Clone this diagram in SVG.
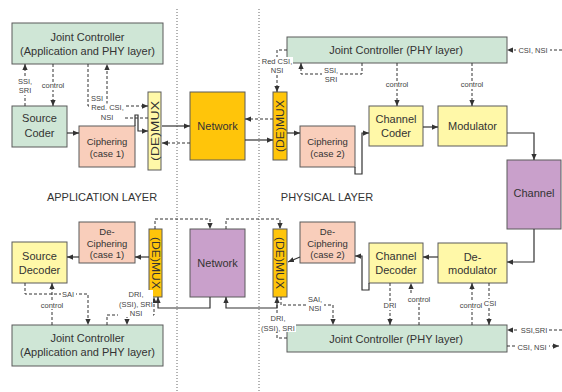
<svg xmlns="http://www.w3.org/2000/svg" width="562" height="392" viewBox="0 0 562 392">
<defs>
<marker id="a" viewBox="0 0 8 8" refX="8" refY="4" markerWidth="6" markerHeight="6" markerUnits="userSpaceOnUse" orient="auto"><path d="M0,0.5 L8,4 L0,7.5 z" fill="#333"/></marker>
<style>
.box{stroke:#5a5a5a;stroke-width:1}
.g{fill:#cfe6d6}.s{fill:#f9cebb}.y{fill:#fff8a8}.o{fill:#ffc50a}.p{fill:#c9a0cb}
.t{font-family:"Liberation Sans",Arial,sans-serif;font-size:11px;fill:#333;text-anchor:middle}
.tc{font-size:9.5px}
.l{font-family:"Liberation Sans",Arial,sans-serif;font-size:7.5px;fill:#444;text-anchor:middle}
.bg{fill:#fff}
.sol{fill:none;stroke:#333;stroke-width:1.2;marker-end:url(#a)}
.das{fill:none;stroke:#333;stroke-width:1;stroke-dasharray:3,2;marker-end:url(#a)}
.sep{stroke:#666;stroke-width:1;stroke-dasharray:1,2}
</style>
</defs>
<rect width="562" height="392" fill="#fff"/>
<g id="separators">
<line class="sep" x1="177" y1="9" x2="177" y2="392"/>
<line class="sep" x1="259" y1="9" x2="259" y2="392"/>
</g>
<g id="layer-labels">
<text class="t" x="102" y="201" fill="#444">APPLICATION LAYER</text>
<text class="t" x="327" y="201">PHYSICAL LAYER</text>
</g>
<g id="jc-app-top"><rect class="box g" x="12" y="23" width="151" height="41"/><text class="t" x="87.5" y="41">Joint Controller</text><text class="t" x="87.5" y="55">(Application and PHY layer)</text></g>
<g id="source-coder"><rect class="box g" x="12" y="106" width="55" height="41"/><text class="t" x="39.5" y="122">Source</text><text class="t" x="39.5" y="137">Coder</text></g>
<g id="ciphering1"><rect class="box s" x="79" y="126" width="56" height="41"/><text class="t tc" x="107" y="144.5">Ciphering</text><text class="t tc" x="107" y="157">(case 1)</text></g>
<g id="demux1"><rect class="box y" x="148" y="92" width="13" height="78"/><text class="t" transform="translate(158.5,131) rotate(-90)" textLength="60" lengthAdjust="spacingAndGlyphs">(DE)MUX</text></g>
<g id="network1"><rect class="box o" x="190" y="92" width="55" height="68"/><text class="t" x="217.5" y="130">Network</text></g>
<g id="demux2"><rect class="box o" x="273" y="92" width="14" height="68"/><text class="t" transform="translate(284,126) rotate(-90)" textLength="52" lengthAdjust="spacingAndGlyphs">(DE)MUX</text></g>
<g id="jc-phy-top"><rect class="box g" x="287" y="37" width="220" height="26"/><text class="t" x="396" y="54">Joint Controller (PHY layer)</text></g>
<g id="ciphering2"><rect class="box s" x="300" y="126" width="55" height="41"/><text class="t tc" x="327.5" y="144.5">Ciphering</text><text class="t tc" x="327.5" y="157">(case 2)</text></g>
<g id="channel-coder"><rect class="box y" x="369" y="106" width="54" height="40"/><text class="t" x="396" y="123">Channel</text><text class="t" x="396" y="137">Coder</text></g>
<g id="modulator"><rect class="box y" x="438" y="106" width="69" height="40"/><text class="t" x="472.5" y="130">Modulator</text></g>
<g id="channel"><rect class="box p" x="507" y="160" width="54" height="69"/><text class="t" x="534" y="197">Channel</text></g>
<g id="decipher1"><rect class="box s" x="79" y="222" width="56" height="41"/><text class="t tc" x="107" y="234.5">De-</text><text class="t tc" x="107" y="246.5">Ciphering</text><text class="t tc" x="107" y="258">(case 1)</text></g>
<g id="source-decoder"><rect class="box y" x="12" y="242" width="55" height="41"/><text class="t" x="39.5" y="260">Source</text><text class="t" x="39.5" y="274">Decoder</text></g>
<g id="demux3"><rect class="box o" x="149" y="229" width="13" height="68"/><text class="t" transform="translate(151.5,263) rotate(90)" textLength="52" lengthAdjust="spacingAndGlyphs">(DE)MUX</text></g>
<g id="network2"><rect class="box p" x="190" y="229" width="55" height="68"/><text class="t" x="217.5" y="267">Network</text></g>
<g id="demux4"><rect class="box o" x="273" y="229" width="14" height="68"/><text class="t" transform="translate(276,263) rotate(90)" textLength="52" lengthAdjust="spacingAndGlyphs">(DE)MUX</text></g>
<g id="decipher2"><rect class="box s" x="300" y="222" width="55" height="41"/><text class="t tc" x="327.5" y="234.5">De-</text><text class="t tc" x="327.5" y="246.5">Ciphering</text><text class="t tc" x="327.5" y="258">(case 2)</text></g>
<g id="channel-decoder"><rect class="box y" x="369" y="243" width="54" height="40"/><text class="t" x="396" y="260">Channel</text><text class="t" x="396" y="274">Decoder</text></g>
<g id="demodulator"><rect class="box y" x="438" y="243" width="69" height="40"/><text class="t" x="472.5" y="261">De-</text><text class="t" x="472.5" y="274">modulator</text></g>
<g id="jc-app-bottom"><rect class="box g" x="12" y="325" width="151" height="41"/><text class="t" x="87.5" y="342">Joint Controller</text><text class="t" x="87.5" y="356">(Application and PHY layer)</text></g>
<g id="jc-phy-bottom"><rect class="box g" x="287" y="325" width="220" height="27"/><text class="t" x="396" y="343">Joint Controller (PHY layer)</text></g>
<g id="connectors">
<path class="sol" d="M67,133 H79"/>
<path class="sol" d="M135,126 V115 H138 V131 H148"/>
<path class="sol" d="M162,126 H190"/>
<path class="sol" d="M245,140 H273"/>
<path class="sol" d="M287,133 H300"/>
<path class="sol" d="M355,167 V174 H362 V133 H369"/>
<path class="sol" d="M423,127 H438"/>
<path class="sol" d="M507,133 H534 V160"/>
<path class="sol" d="M534,229 V262 H507"/>
<path class="sol" d="M438,257 H423"/>
<path class="sol" d="M369,283 V290 H362 V256 H355"/>
<path class="sol" d="M300,257 L288,262"/>
<path class="sol" d="M277,297 V308 H226 V297"/>
<path class="sol" d="M210,297 V308 H158 V297"/>
<path class="sol" d="M149,257 H135"/>
<path class="sol" d="M79,257 H67"/>
<path class="das" d="M25,106 V64"/>
<path class="das" d="M53,64 V106"/>
<path class="das" d="M88,64 V106 H148"/>
<path class="das" d="M148,118 H107 V64"/>
<path class="das" d="M273,119 H245"/>
<path class="das" d="M190,143 H162"/>
<path class="das" d="M287,50 H277 V92"/>
<path class="das" d="M362,63 V74 H301 V63"/>
<path class="das" d="M397,63 V106"/>
<path class="das" d="M472,63 V106"/>
<path class="das" d="M562,50 H507"/>
<path class="das" d="M155,229 V219 H210 V229"/>
<path class="das" d="M226,229 V219 H280 V229"/>
<path class="das" d="M287,338 H277 V297"/>
<path class="das" d="M281,297 V305 H333 V325"/>
<path class="das" d="M390,283 V325"/>
<path class="das" d="M419,325 V296 H411 V283"/>
<path class="das" d="M472,325 V283"/>
<path class="das" d="M489,283 V325"/>
<path class="das" d="M562,330 H507"/>
<path class="das" d="M507,346 H559"/>
<path class="das" d="M25,283 V294 H88 V325"/>
<path class="das" d="M52,325 V283"/>
<path class="das" d="M107,325 V315 H154 V297"/>
<path class="das" d="M127,315 V325"/>
<rect class="bg" x="17" y="77" width="16" height="18"/>
<text class="l" x="25" y="84">SSI,</text><text class="l" x="25" y="93">SRI</text>
<rect class="bg" x="41" y="82" width="24" height="8"/>
<text class="l" x="53" y="88">control</text>
<rect class="bg" x="91" y="95" width="13" height="7"/>
<text class="l" x="97" y="101">SSI</text>
<rect class="bg" x="91" y="103.5" width="33" height="18.5"/>
<text class="l" x="107.5" y="110">Red. CSI,</text>
<text class="l" x="107" y="120">NSI</text>
<rect class="bg" x="262" y="57" width="31" height="18"/>
<text class="l" x="277" y="64">Red CSI,</text><text class="l" x="277" y="73">NSI</text>
<rect class="bg" x="322" y="66" width="18" height="17"/>
<text class="l" x="331" y="73">SSI,</text><text class="l" x="331" y="82">SRI</text>
<rect class="bg" x="385" y="81" width="24" height="8"/>
<text class="l" x="397" y="87">control</text>
<rect class="bg" x="460" y="81" width="24" height="8"/>
<text class="l" x="472" y="87">control</text>
<rect class="bg" x="516" y="46" width="34" height="8"/>
<text class="l" x="533" y="53">CSI, NSI</text>
<rect class="bg" x="262" y="314" width="34" height="18"/>
<text class="l" x="278" y="321">DRI,</text><text class="l" x="278" y="331">(SSI), SRI</text>
<rect class="bg" x="306" y="296" width="18" height="16"/>
<text class="l" x="315" y="302">SAI,</text><text class="l" x="315" y="311">NSI</text>
<rect class="bg" x="382" y="302" width="16" height="8"/>
<text class="l" x="390" y="308">DRI</text>
<rect class="bg" x="407" y="295" width="25" height="8"/>
<text class="l" x="419" y="302">control</text>
<rect class="bg" x="460" y="301" width="23" height="8"/>
<text class="l" x="471" y="308">control</text>
<rect class="bg" x="483" y="299" width="13" height="8"/>
<text class="l" x="490" y="306">CSI</text>
<rect class="bg" x="519" y="326" width="30" height="8"/>
<text class="l" x="534" y="333">SSI,SRI</text>
<rect class="bg" x="516" y="342" width="33" height="8"/>
<text class="l" x="532" y="350">CSI, NSI</text>
<rect class="bg" x="61" y="290" width="15" height="8"/>
<text class="l" x="68" y="297">SAI</text>
<rect class="bg" x="40" y="301" width="25" height="8"/>
<text class="l" x="52" y="308">control</text>
<rect class="bg" x="118" y="290" width="35" height="27"/>
<text class="l" x="136" y="297">DRI,</text><text class="l" x="136" y="307">(SSI), SRI</text><text class="l" x="136" y="316">NSI</text>
</g>
</svg>
